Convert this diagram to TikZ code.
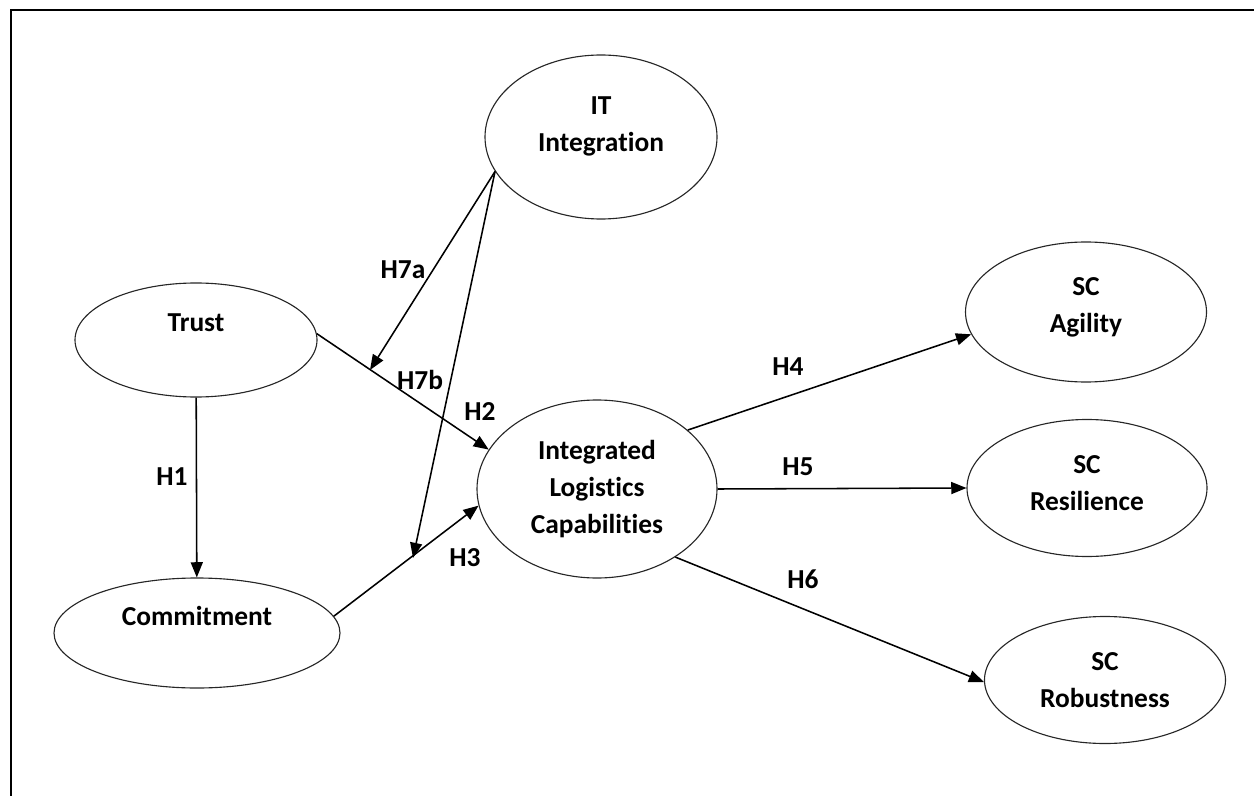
\documentclass[tikz,border=0pt]{standalone}
\usepackage{fontspec}
\setmainfont{Carlito}[Ligatures=NoCommon]
\usetikzlibrary{arrows.meta,shapes.geometric}
\begin{document}
\begin{tikzpicture}[
    construct/.style={draw=black!85, line width=0.8pt, ellipse, align=center,
      inner sep=0pt, font=\fontsize{19.5}{26.5}\selectfont\bfseries},
    raised/.style={text depth=#1},
    hyp/.style={font=\fontsize{19.5}{26.5}\selectfont\bfseries},
    hyparrow/.style={line width=1.1pt, -{Triangle[length=3.8mm,width=3mm]}}
  ]
  \useasboundingbox (0,0) rectangle (31.35,19.875);
  \draw[line width=1.5pt] (32,-1) -- (0.275,-1) -- (0.275,19.625) -- (32,19.625);
  \draw
    (15.025,16.45) node[construct, raised=0.65cm, minimum width=5.8cm, minimum height=4.1cm] (it){IT\\Integration}
    (4.9,11.375) node[construct, raised=0.85cm, minimum width=6.05cm, minimum height=2.85cm] (trust){Trust}
    (4.925,4.05) node[construct, raised=0.85cm, minimum width=7.15cm, minimum height=2.75cm] (commit){Commitment}
    (14.925,7.65) node[construct, minimum width=6cm, minimum height=4.45cm] (ilc){Integrated\\Logistics\\Capabilities}
    (27.15,12.075) node[construct, raised=0.35cm, minimum width=6.025cm, minimum height=3.5cm] (agility){SC\\Agility}
    (27.175,7.675) node[construct, raised=0.25cm, minimum width=6cm, minimum height=3.425cm] (resil){SC\\Resilience}
    (27.625,2.875) node[construct, minimum width=6.025cm, minimum height=3.175cm] (robust){SC\\Robustness};
  \coordinate (h7a) at (9.25,10.625);
  \coordinate (h7b) at (10.325,5.925);
  \begin{scope}[hyparrow]
    \draw (trust) to (commit);
    \draw (trust.3) to (ilc.160);
    \draw (commit.7) to (ilc.188);
    \draw (ilc.33) to (agility.191);
    \draw (ilc.east) to (resil.west);
    \draw (ilc.-41) to (robust.181);
    \draw (it.198) to (h7a);
    \draw (it.198) to (h7b);
  \end{scope}
  \draw
    (4.3,7.95) node[hyp] (l1){H1}
    (12.0,9.575) node[hyp] (l2){H2}
    (11.625,5.925) node[hyp] (l3){H3}
    (19.7,10.7) node[hyp] (l4){H4}
    (19.95,8.2) node[hyp] (l5){H5}
    (20.075,5.4) node[hyp] (l6){H6}
    (10.075,13.125) node[hyp] (l7a){H7a}
    (10.5,10.375) node[hyp] (l7b){H7b};
\end{tikzpicture}
\end{document}
